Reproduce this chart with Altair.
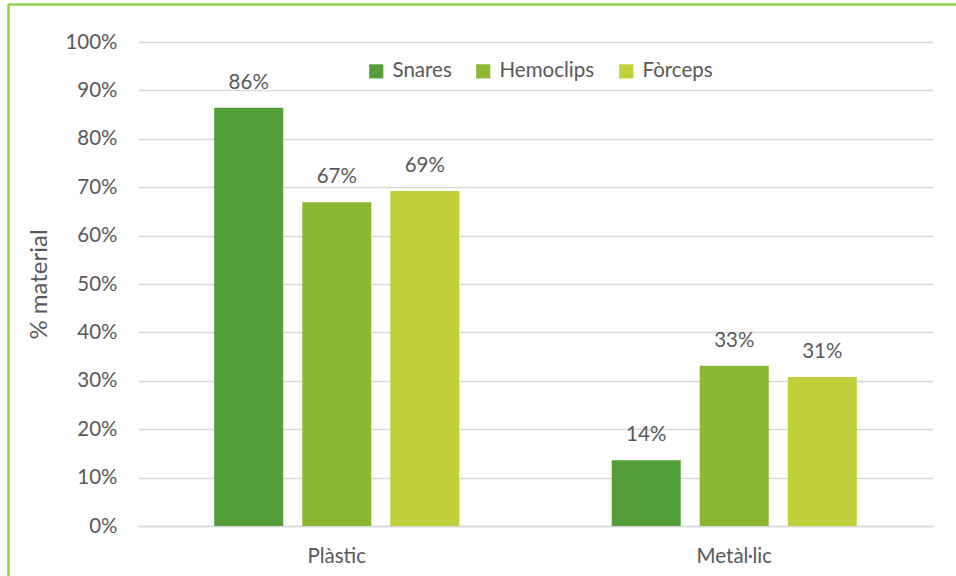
import altair as alt
import pandas as pd

categories = ["Plàstic", "Metàl·lic"]
series = ["Snares", "Hemoclips", "Fòrceps"]
values = {
    "Snares": [0.864, 0.136],
    "Hemoclips": [0.669, 0.331],
    "Fòrceps": [0.692, 0.308],
}
labels = {
    "Snares": ["86%", "14%"],
    "Hemoclips": ["67%", "33%"],
    "Fòrceps": ["69%", "31%"],
}
colors = ["#549E39", "#8AB833", "#C0CF3A"]

rows = []
for s in series:
    for i, c in enumerate(categories):
        rows.append({"cat": c, "series": s, "value": values[s][i], "label": labels[s][i]})
df = pd.DataFrame(rows)

FONT = "Lato"
TXT = "#595959"
FS = 20.5

base = alt.Chart(df)

x = alt.X("cat:N", sort=categories, title=None,
          scale=alt.Scale(paddingInner=0, paddingOuter=0),
          axis=alt.Axis(labelAngle=0, ticks=False, domainColor="#D9D9D9", domainWidth=1.5,
                        labelPadding=20, labelFontSize=FS, labelColor=TXT, labelFont=FONT,
                        grid=False))
xo = alt.XOffset("series:N", sort=series,
                 scale=alt.Scale(paddingInner=0.216, paddingOuter=0.866))
y = alt.Y("value:Q", title="% material",
          scale=alt.Scale(domain=[0, 1], nice=False),
          axis=alt.Axis(format="%", values=[i / 10 for i in range(11)], domain=False, ticks=False,
                        labelPadding=21, labelFontSize=FS, labelColor=TXT, labelFont=FONT,
                        gridColor="#D9D9D9", gridWidth=1.5,
                        titleFontSize=24, titleFontWeight="normal", titleColor=TXT,
                        titleFont=FONT, titlePadding=13))

bars = base.mark_bar().encode(
    x=x, xOffset=xo, y=y,
    color=alt.Color("series:N", sort=series,
                    scale=alt.Scale(domain=series, range=colors),
                    legend=alt.Legend(title=None, orient="none", direction="horizontal",
                                      legendX=228, legendY=19, symbolType="square",
                                      symbolSize=200, symbolStrokeWidth=0,
                                      labelFontSize=FS, labelColor=TXT, labelFont=FONT,
                                      columnPadding=21, symbolOffset=0, labelOffset=6)),
)

text = base.mark_text(baseline="bottom", dy=-15, fontSize=FS, color=TXT, font=FONT).encode(
    x=alt.X("cat:N", sort=categories), xOffset=alt.XOffset("series:N", sort=series), y="value:Q",
    text="label:N",
)

frame = alt.Chart(alt.Data(values=[{}])).mark_rule(color="#92D050", strokeWidth=2.5, clip=False)
top_line = frame.encode(x=alt.value(-130), x2=alt.value(830), y=alt.value(-37.5))
left_line = frame.encode(x=alt.value(-129.5), y=alt.value(-38), y2=alt.value(540))

chart = alt.layer(bars, text, top_line, left_line).properties(
    width=795, height=484,
    autosize=alt.AutoSizeParams(type="none"),
    padding={"left": 138, "top": 42, "right": 23, "bottom": 50},
).configure_view(stroke=None)

chart.save("out.html", embed_options={"renderer": "svg", "actions": False})
